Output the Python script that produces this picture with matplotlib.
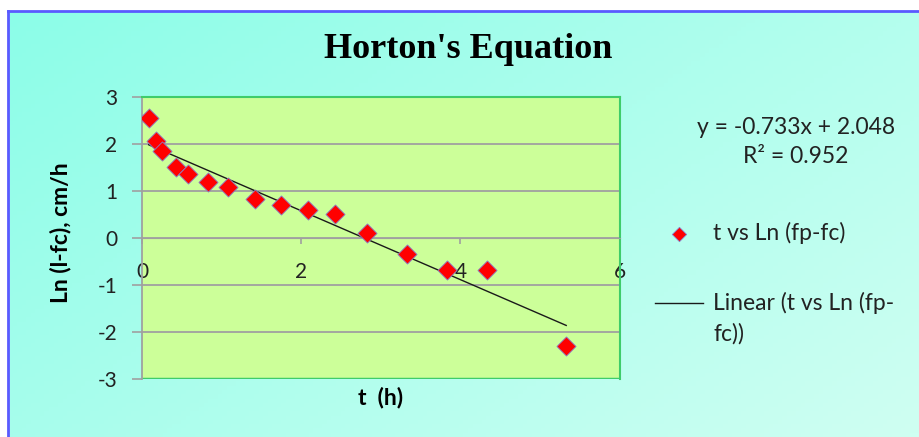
import numpy as np
import matplotlib.pyplot as plt
from matplotlib.colors import LinearSegmentedColormap

# time (h) vs ln(fp - fc)
t_h = [0.08, 0.17, 0.25, 0.42, 0.58, 0.83, 1.08, 1.42, 1.75, 2.08, 2.42, 2.83, 3.33, 3.83, 4.33, 5.33]
ln_fp_fc = [2.55, 2.07, 1.86, 1.51, 1.36, 1.20, 1.08, 0.83, 0.71, 0.60, 0.51, 0.10, -0.34, -0.68, -0.68, -2.29]

# Excel trendline, as printed on the chart
slope = -0.733
intercept = 2.048
r2 = 0.952

x_ticks = [0, 2, 4, 6]
y_ticks = [-3, -2, -1, 0, 1, 2, 3]

plt.rcParams["axes.unicode_minus"] = False
sans = ["Lato", "DejaVu Sans"]
W, H = 919, 437
fig = plt.figure(figsize=(W / 100, H / 100), dpi=100)
fig.patch.set_facecolor("white")

# gradient chart-area background with blue frame on left/top
bg = fig.add_axes([8 / W, 0, 1 - 8 / W, 1 - 10.5 / H], zorder=-5)
cmap = LinearSegmentedColormap.from_list("bgc", ["#8cfde8", "#cffff2"])
gx, gy = np.meshgrid(np.linspace(0, 1, 200), np.linspace(0, 1, 100))
bg.imshow(0.6 * gx + 0.4 * gy, cmap=cmap, aspect="auto", extent=[0, 1, 1, 0])
bg.set_xticks([])
bg.set_yticks([])
for s in ["right", "bottom"]:
    bg.spines[s].set_visible(False)
for s in ["left", "top"]:
    bg.spines[s].set_color("#5a5aff")
    bg.spines[s].set_linewidth(2)

ax = fig.add_axes([142.3 / W, 1 - 379 / H, (619.5 - 142.3) / W, (379 - 97.3) / H])
ax.set_facecolor("#ccff99")
ax.set_xlim(0, 6)
ax.set_ylim(-3, 3)

ax.scatter(t_h, ln_fp_fc, marker="D", s=95, color="#ff0000", edgecolors="#8a7fc8",
           linewidths=0.6, zorder=3, label="t vs Ln (fp-fc)")
fit_x = np.array([min(t_h), max(t_h)])
ax.plot(fit_x, slope * fit_x + intercept, color="#1a1a1a", lw=1.0, zorder=2,
        label="Linear (t vs Ln (fp-\nfc))")

ax.set_yticks(y_ticks)
ax.set_xticks(x_ticks)
ax.grid(axis="y", color="#a0a0a0", lw=1.3)
ax.grid(axis="x", visible=False)
ax.set_axisbelow(True)

ax.spines["bottom"].set_position(("data", 0))
ax.spines["bottom"].set_color("#a0a0a0")
ax.spines["left"].set_color("#a0a0a0")
ax.spines["left"].set_linewidth(1.3)
for s in ["top", "right"]:
    ax.spines[s].set_color("#3fcc6a")
    ax.spines[s].set_linewidth(1.5)
# green border along the bottom of the plot area
ax.axhline(-3, color="#3fcc6a", lw=2.5, zorder=1)

ax.tick_params(axis="y", direction="out", length=7, width=1.2, color="#a0a0a0", pad=11,
               labelsize=15, labelcolor="#222222")
ax.tick_params(axis="x", direction="out", length=4.5, width=1.2, color="#a0a0a0", pad=13,
               labelsize=15, labelcolor="#222222")
for lab in ax.get_xticklabels() + ax.get_yticklabels():
    lab.set_family(sans)

fig.text(468 / W, 1 - 49 / H, "Horton's Equation", family="Liberation Serif",
         fontweight="bold", fontsize=26, ha="center", va="center")
fig.text(381 / W, 1 - 398 / H, "t  (h)", family=sans, fontweight="bold", fontsize=16.5,
         ha="center", va="center")
fig.text(61 / W, 1 - 233 / H, "Ln (l-fc), cm/h", family=sans, fontweight="bold", fontsize=16.5,
         ha="center", va="center", rotation=90)

fig.text(796 / W, 1 - 142 / H, f"y = {slope}x + {intercept}\nR\u00b2 = {r2}", family=sans,
         fontsize=16.5, ha="center", va="center", linespacing=1.5, color="#222222")

leg = fig.legend(loc="upper left", bbox_to_anchor=(655 / W, 1 - 222 / H), frameon=False,
                 prop={"family": sans, "size": 16.5}, handlelength=2.1, handletextpad=0.45,
                 labelspacing=2.1, borderpad=0, borderaxespad=0, markerscale=0.75)
for txt in leg.get_texts():
    txt.set_linespacing(1.5)
    txt.set_color("#222222")
# Excel puts the trendline swatch beside the first line of the wrapped label
trend_handle = leg.legend_handles[1]
trend_handle.set_ydata(np.asarray(trend_handle.get_ydata()) + 11.5)

fig.savefig("out.png", dpi=100)
